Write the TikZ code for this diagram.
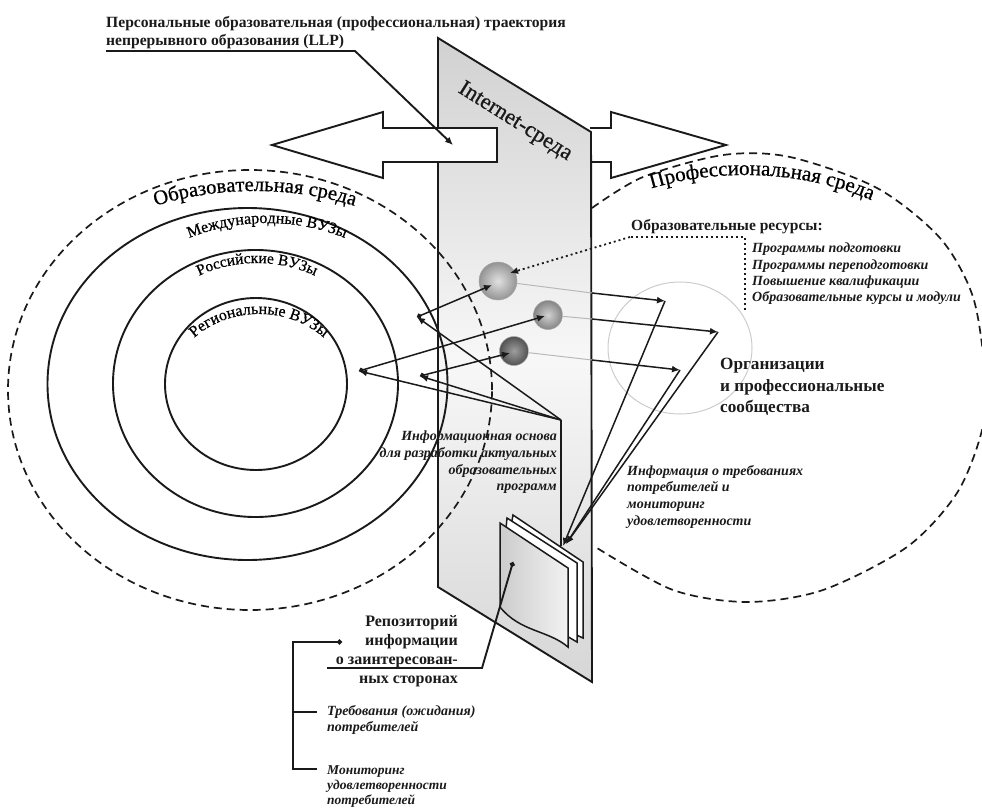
\documentclass[tikz,border=0pt]{standalone}
\usepackage{fontspec}
\setmainfont{Liberation Serif}
\newfontfamily\semib[FakeBold=0.7]{Liberation Serif}
\usetikzlibrary{arrows.meta,decorations.text,shapes.geometric}
\definecolor{ink}{HTML}{1A1A1A}
\tikzset{
  ln/.style={draw=ink,line width=1.9pt},
  thinln/.style={draw=ink,line width=1.5pt},
  dsh/.style={draw=ink,line width=1.7pt,dash pattern=on 8pt off 5pt},
  tip/.style={-{Latex[length=8pt,width=7pt]}},
  dotbeg/.style={{Circle[length=5pt]}-{Latex[length=8pt,width=7pt]}},
  lineL/.style={anchor=north west,inner sep=0pt,align=left,text=ink,font=\bfseries\fontsize{15.6}{18}\selectfont},
  itL/.style={anchor=north west,inner sep=0pt,align=left,text=ink,font=\bfseries\itshape\fontsize{14}{16.6}\selectfont},
  itR/.style={anchor=north east,inner sep=0pt,align=right,text=ink,font=\bfseries\itshape\fontsize{14}{16.6}\selectfont},
  sphere/.style={circle,inner sep=0pt,draw=gray!70,line width=.5pt},
  grayln/.style={draw=gray!55,line width=1pt},
}
\begin{document}
\begin{tikzpicture}[x=1pt,y=-1pt]
\useasboundingbox (0,0) rectangle (982,808);
% right environment
\draw[dsh] plot[smooth] coordinates {(592,208) (643,177) (723,155) (790,157) (877,188) (940,238) (973,297) (985,375) (982,430) (957,493) (907,547) (823,590) (747,602) (673,590) (597,548)};
\path[decorate,decoration={text along path,text align=center,text={|\semib\fontsize{21}{24}\selectfont|Профессиональная среда}}]
  ([shift={(745,375)}]112:260pt and 200pt) arc[start angle=112,end angle=60,x radius=260pt,y radius=200pt];
\draw[draw=gray!40,line width=1pt] (680,348) ellipse [x radius=72pt,y radius=66pt];
% right arrow
\draw[ln,fill=white] (590,128) -- (611,128) -- (611,112) -- (726,145) -- (611,178) -- (611,162) -- (590,162);
% panel
\shade[top color=black!18,bottom color=black!16,middle color=black!3,draw=ink,line width=1.9pt]
  (438,38) -- (591,132) -- (592,682) -- (438,587) -- cycle;
\node[rotate=-32,text=ink,font=\semib\fontsize{22.5}{27}\selectfont,inner sep=0pt] (net) at (515,122) {Internet-среда};
% left environment
\draw[dsh] (250,390) ellipse [x radius=242pt,y radius=220pt];
\draw[ln] (247.5,384) ellipse [x radius=200pt,y radius=176pt];
\draw[ln] (255.5,383.5) ellipse [x radius=142.5pt,y radius=133.5pt];
\draw[ln] (256,384) ellipse [x radius=91pt,y radius=86pt];
\path[decorate,decoration={text along path,text align=center,text={|\semib\fontsize{20.5}{24}\selectfont|Образовательная среда}}]
  ([shift={(255,394)}]115:265pt and 203pt) arc[start angle=115,end angle=65,x radius=265pt,y radius=203pt];
\path[decorate,decoration={text along path,text align=center,text={|\semib\fontsize{16}{18}\selectfont|Международные ВУЗы}}]
  ([shift={(267,385)}]125:185pt and 162pt) arc[start angle=125,end angle=55,x radius=185pt,y radius=162pt];
\path[decorate,decoration={text along path,text align=center,text={|\semib\fontsize{15.5}{17}\selectfont|Российские ВУЗы}}]
  ([shift={(257,385)}]130:130pt and 122pt) arc[start angle=130,end angle=50,x radius=130pt,y radius=122pt];
\path[decorate,decoration={text along path,text align=center,text={|\semib\fontsize{16}{17}\selectfont|Региональные ВУЗы}}]
  ([shift={(259,388)}]160:88pt and 74pt) arc[start angle=160,end angle=20,x radius=88pt,y radius=74pt];
% left arrow
\draw[ln,fill=white] (272,145) -- (383,112) -- (383,128) -- (497,128) -- (497,162) -- (383,162) -- (383,178) -- cycle;
% title
\node[lineL] (title) at (106,16.5) {Персональные образовательная (профессиональная) траектория\\непрерывного образования (LLP)};
\coordinate (t0) at (106,51);
\coordinate (t1) at (355,51);
\coordinate (t2) at (453,145);
\draw[ln,tip] (t0) -- (t1) -- (t2);
% resources
\node[lineL,font=\bfseries\fontsize{15.5}{17}\selectfont] (res) at (631,219) {Образовательные ресурсы:};
\node[itL,font=\bfseries\itshape\fontsize{14}{16.1}\selectfont] (reslist) at (752,243) {Программы подготовки\\Программы переподготовки\\Повышение квалификации\\Образовательные курсы и модули};
% organisations
\node[lineL,font=\bfseries\fontsize{17.2}{21.5}\selectfont] (org) at (720,358) {Организации\\и профессиональные\\сообщества};
% information texts
\node[itR] (infoL) at (557,431) {Информационная основа\\для разработки актуальных\\образовательных\\программ};
\node[itL] (infoR) at (627,465) {Информация о требованиях\\потребителей и\\мониторинг\\удовлетворенности};
% spheres
\node[sphere,minimum size=38pt,inner color=black!12,outer color=black!42] (s1) at (498,281) {};
\node[sphere,minimum size=29pt,inner color=black!18,outer color=black!48] (s2) at (548,315) {};
\node[sphere,minimum size=29pt,inner color=black!38,outer color=black!68] (s3) at (514,351) {};
% dotted link
\coordinate (d0) at (745,310);
\coordinate (d1) at (745,237);
\coordinate (d2) at (630,237);
\coordinate (d3) at (510,273);
\draw[draw=ink,line width=1.8pt,dash pattern=on 2pt off 3pt] (d0) -- (d1) -- (d2);
\draw[draw=ink,line width=1.8pt,dash pattern=on 2pt off 3pt,tip] (d2) -- (d3);
% sheets
\coordinate (r3a) at (513,515); \coordinate (r3b) at (583,562); \coordinate (r3c) at (583,638);
\coordinate (r2a) at (507,518); \coordinate (r2b) at (577,563); \coordinate (r2c) at (577,642);
\coordinate (r1a) at (500,523); \coordinate (r1b) at (568,568); \coordinate (r1c) at (568,647);
\coordinate (r1d) at (500,607);
\filldraw[thinln,fill=white] (r3a) -- (r3b) -- (r3c) -- (570,632) -- (505,560) -- cycle;
\filldraw[thinln,fill=white] (r2a) -- (r2b) -- (r2c) -- (565,635) -- (503,560) -- cycle;
\shade[left color=black!20,right color=black!5,draw=ink,line width=1.5pt]
  (r1a) -- (r1b) -- (r1c) .. controls (548,630) and (520,632) .. (r1d) -- cycle;
% repository and target points
\coordinate (rep) at (561,546);
\coordinate (corner) at (561,420);
\coordinate (pa) at (417,317);
\coordinate (pb) at (359,371);
\coordinate (pc) at (420,376);
\coordinate (a1) at (492,285);
\coordinate (a2) at (545,316);
\coordinate (a3) at (510,353);
\coordinate (e1) at (592,293);
\coordinate (e2) at (592,319);
\coordinate (e3) at (592,360);
\coordinate (q1) at (665,301);
\coordinate (q2) at (718,332);
\coordinate (q3) at (680,370);
\coordinate (rep1) at (563,546);
\coordinate (rep2) at (566,544);
% sphere to organisation
\draw[grayln] (s1) -- (e1);
\draw[grayln] (s2) -- (e2);
\draw[grayln] (s3) -- (e3);
\draw[thinln,tip] (e1) -- (q1);
\draw[thinln,tip] (e2) -- (q2);
\draw[thinln,tip] (e3) -- (q3);
\draw[thinln,tip] (q1) -- (rep1);
\draw[thinln,tip] (q2) -- (rep2);
\draw[thinln,tip] (q3) -- (rep2);
% repository to universities
\draw[ln] (rep) -- (corner);
\draw[thinln,tip] (corner) -- (pa);
\draw[thinln,tip] (corner) -- (pb);
\draw[thinln,tip] (corner) -- (pc);
\draw[thinln,dotbeg] (pa) -- (a1);
\draw[thinln,dotbeg] (pb) -- (a2);
\draw[thinln,dotbeg] (pc) -- (a3);
% repository label
\coordinate (rd) at (513,562);
\coordinate (rk) at (482,668);
\coordinate (rl) at (327,668);
\draw[ln,{Circle[length=5pt]}-] (rd) -- (rk) -- (rl);
\node[anchor=north east,inner sep=0pt,align=right,text=ink,font=\bfseries\fontsize{16}{19}\selectfont] (repo) at (458,615) {Репозиторий\\информации\\о заинтересован-\\ных сторонах};
% bracket
\coordinate (bd) at (342,642);
\coordinate (bt) at (293,642);
\coordinate (bm) at (293,712);
\coordinate (bb) at (293,769);
\coordinate (bme) at (317,712);
\coordinate (bbe) at (317,769);
\draw[ln,{Circle[length=5pt]}-] (bd) -- (bt) -- (bb) -- (bbe);
\draw[ln] (bm) -- (bme);
\node[itL] (req) at (327,705) {Требования (ожидания)\\потребителей};
\node[itL,font=\bfseries\itshape\fontsize{13.5}{15.4}\selectfont] (mon) at (327,765) {Мониторинг\\удовлетворенности\\потребителей};
\end{tikzpicture}
\end{document}
